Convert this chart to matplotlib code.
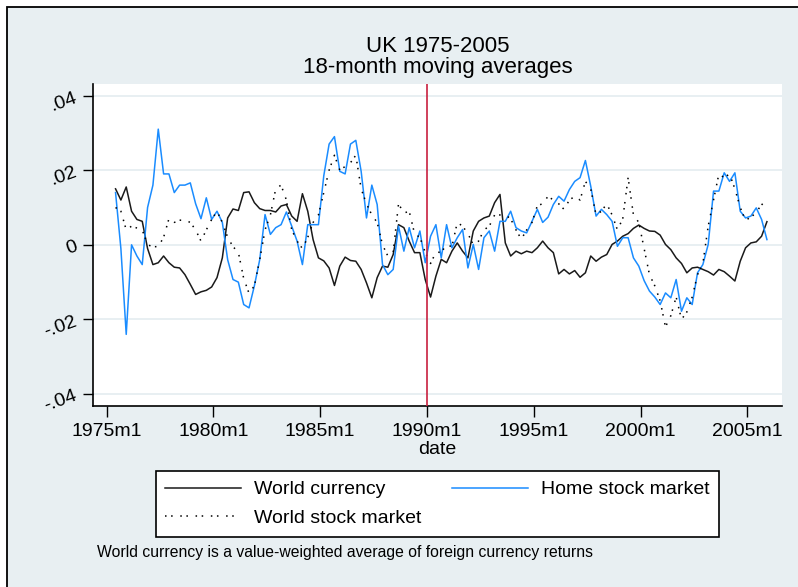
import numpy as np
import matplotlib
matplotlib.use("Agg")
import matplotlib.pyplot as plt
from matplotlib.patches import Rectangle

plt.rcParams['font.family'] = ['Liberation Sans', 'DejaVu Sans']

# months since 1975m1, quarterly readings from 1975m6 to 2005m12
months = np.arange(5, 372, 3)

world_currency = [
    0.015, 0.012, 0.0155, 0.009, 0.0068, 0.0063, -0.001, -0.0053, -0.0048, -0.003,
    -0.0048, -0.006, -0.0062, -0.008, -0.0106, -0.0133, -0.0126, -0.0122, -0.0113, -0.0088,
    -0.0035, 0.0072, 0.0096, 0.0092, 0.014, 0.0142, 0.0113, 0.0097, 0.0092, 0.0092,
    0.0088, 0.0104, 0.0108, 0.0077, 0.0063, 0.0137, 0.009, 0.0014, -0.0035, -0.0043,
    -0.0062, -0.0109, -0.0057, -0.0033, -0.0042, -0.0044, -0.0066, -0.0102, -0.0142, -0.0088,
    -0.0057, -0.006, -0.0026, 0.0054, 0.0046, 0.001, -0.0021, -0.0021, -0.0093, -0.014,
    -0.0084, -0.0039, -0.0048, -0.0017, 0.0005, -0.0017, -0.0035, 0.0037, 0.0063, 0.0072,
    0.0077, 0.0113, 0.0135, 0.0005, -0.003, -0.0017, -0.0024, -0.0017, -0.0021, -0.0008,
    0.001, -0.0008, -0.0021, -0.0078, -0.0066, -0.0078, -0.0069, -0.0087, -0.0075, -0.003,
    -0.0044, -0.0033, -0.0026, 0.0001, 0.001, 0.0023, 0.003, 0.0044, 0.0053, 0.0044,
    0.0037, 0.0036, 0.0026, 0.0001, -0.0013, -0.0035, -0.005, -0.0075, -0.0062, -0.006,
    -0.0066, -0.0072, -0.0081, -0.0066, -0.0072, -0.0084, -0.0097, -0.0044, -0.0008, 0.0005,
    0.0008, 0.0023, 0.0062,
]

home_stock = [
    0.014, -0.001, -0.024, 0.0, -0.003, -0.0053, 0.01, 0.016, 0.031, 0.019,
    0.019, 0.014, 0.016, 0.016, 0.0166, 0.011, 0.007, 0.0126, 0.0068, 0.009,
    0.006, -0.004, -0.0093, -0.010, -0.016, -0.0169, -0.011, -0.004, 0.0081, 0.0028,
    0.0046, 0.0054, 0.0088, 0.005, 0.001, -0.0053, 0.0054, 0.0054, 0.0054, 0.0185,
    0.027, 0.029, 0.0197, 0.019, 0.027, 0.028, 0.0197, 0.0072, 0.016, 0.0108,
    -0.0053, -0.008, -0.0066, 0.005, -0.0017, 0.0046, -0.0008, 0.0037, -0.0048, 0.0023,
    0.0054, -0.0035, 0.0054, -0.0008, 0.0019, 0.0041, -0.0062, 0.0001, -0.0066, 0.0019,
    0.0037, -0.0017, 0.0063, 0.0063, 0.009, 0.0046, 0.0037, 0.0032, 0.0063, 0.0095,
    0.006, 0.0074, 0.0108, 0.013, 0.0117, 0.0148, 0.017, 0.018, 0.0226, 0.0157,
    0.0077, 0.0095, 0.0081, 0.0063, -0.0004, 0.0019, 0.0019, -0.0035, -0.0057, -0.0096,
    -0.0124, -0.014, -0.016, -0.0129, -0.0142, -0.0093, -0.0178, -0.0142, -0.016, -0.0075,
    -0.0053, 0.0001, 0.0144, 0.0144, 0.0193, 0.017, 0.0193, 0.009, 0.0072, 0.0077,
    0.0099, 0.0068, 0.0014,
]

world_stock = [
    0.010, 0.009, 0.004, 0.005, 0.0045, 0.004, 0.0, -0.0005, -0.0005, 0.002,
    0.007, 0.006, 0.0066, 0.0066, 0.006, 0.004, 0.001, 0.004, 0.0068, 0.009,
    0.006, 0.002, -0.0005, -0.002, -0.009, -0.013, -0.011, -0.004, 0.004, 0.008,
    0.015, 0.016, 0.012, 0.004, 0.001, -0.001, 0.002, 0.006, 0.008, 0.014,
    0.02, 0.024, 0.02, 0.021, 0.022, 0.024, 0.015, 0.011, 0.008, 0.006,
    0.0, -0.003, -0.002, 0.011, 0.0085, 0.009, 0.003, 0.002, -0.002, -0.005,
    -0.002, -0.002, 0.0, -0.0005, 0.006, 0.005, 0.003, 0.0, 0.001, 0.004,
    0.005, 0.008, 0.008, 0.008, 0.007, 0.004, 0.0015, 0.004, 0.006, 0.0105,
    0.011, 0.013, 0.012, 0.011, 0.0095, 0.012, 0.013, 0.012, 0.017, 0.015,
    0.008, 0.009, 0.011, 0.008, 0.004, 0.007, 0.018, 0.008, 0.006, -0.001,
    -0.008, -0.011, -0.015, -0.022, -0.019, -0.014, -0.020, -0.018, -0.014, -0.008,
    -0.005, 0.005, 0.012, 0.019, 0.018, 0.019, 0.015, 0.010, 0.0065, 0.0075,
    0.0085, 0.011, 0.0095,
]

tick_months = [0, 60, 120, 180, 240, 300, 360]
tick_labels = ['1975m1', '1980m1', '1985m1', '1990m1', '1995m1', '2000m1', '2005m1']
y_ticks = [-0.04, -0.02, 0, 0.02, 0.04]
y_labels = ['-.04', '-.02', '0', '.02', '.04']

W, H = 798, 587
bg = '#E8EFF2'
fig = plt.figure(figsize=(W / 100, H / 100), dpi=100, facecolor='white')

# outer frame (Stata graph region)
fig.patches.append(Rectangle((7 / W, -0.05), 1.1, 1 - 7 / H + 0.05, transform=fig.transFigure,
                             facecolor=bg, edgecolor='black', linewidth=1.3, zorder=-5))

ax = fig.add_axes([93.3 / W, 1 - 406 / H, (781.7 - 93.3) / W, (406 - 84) / H])
ax.set_facecolor('white')

for y in y_ticks:
    ax.axhline(y, color='#E6EEF1', lw=1.3, zorder=0)

l_wc, = ax.plot(months, world_currency, color='#1a1a1a', lw=1.1, zorder=3)
l_hs, = ax.plot(months, home_stock, color='#1A8CFF', lw=1.1, zorder=4)
l_ws, = ax.plot(months, world_stock, color='black', lw=1.1, linestyle=(0, (1, 3, 1, 5)), zorder=5)
ax.axvline(180, color='#C8203F', lw=1.2, zorder=6)

ax.set_xlim(-7.5, 379.3)
ax.set_ylim(-0.0432, 0.0431)
ax.set_xticks(tick_months)
ax.set_xticklabels(tick_labels, fontsize=14)
ax.set_yticks(y_ticks)
ax.set_yticklabels(y_labels, fontsize=14, rotation=20)
ax.tick_params(axis='x', length=8, width=1, pad=4)
ax.tick_params(axis='y', length=7, width=1, pad=3)
for s in ['top', 'right']:
    ax.spines[s].set_visible(False)
for s in ['left', 'bottom']:
    ax.spines[s].set_linewidth(1.2)
ax.set_xlabel('date', fontsize=14, labelpad=1)

fig.text(437.5 / W, 1 - 46 / H, 'UK 1975-2005', ha='center', va='center', fontsize=16)
fig.text(437.5 / W, 1 - 68 / H, '18-month moving averages', ha='center', va='center', fontsize=16)

leg = fig.legend([l_wc, l_ws, l_hs], ['World currency', 'World stock market', 'Home stock market'],
                 ncol=2, loc='center', bbox_to_anchor=(437.5 / W, 1 - 504 / H),
                 fontsize=14, frameon=True, fancybox=False, edgecolor='black', framealpha=1,
                 handlelength=3.9, handletextpad=0.65, columnspacing=1.6,
                 labelspacing=0.58, borderpad=0.5)
leg.get_frame().set_linewidth(1.2)

fig.text(97 / W, 1 - 553 / H, 'World currency is a value-weighted average of foreign currency returns',
         ha='left', va='center', fontsize=11.3)

fig.savefig('out.png', dpi=100, facecolor=fig.get_facecolor())
